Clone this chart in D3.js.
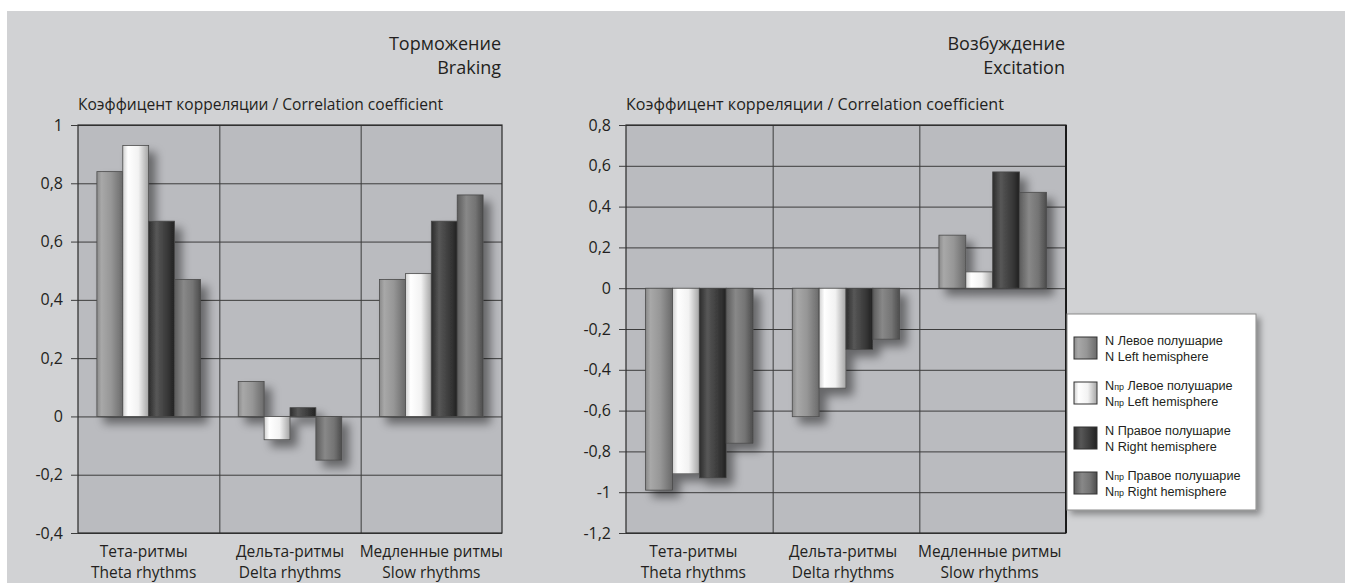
<!DOCTYPE html>
<html><head><meta charset="utf-8">
<script src="https://cdn.jsdelivr.net/npm/d3@7"></script>
<style>
html,body{margin:0;padding:0;background:#fff;}
svg{display:block;}
text{fill:#231f20;}
</style></head>
<body><svg id="c" width="1345" height="583" style='font-family:"Open Sans","Noto Sans",sans-serif'></svg>
<script>
// ---- data ----
const categoriesRu = ["Тета-ритмы", "Дельта-ритмы", "Медленные ритмы"];
const categoriesEn = ["Theta rhythms", "Delta rhythms", "Slow rhythms"];
const seriesKeys = ["nLeft", "nprLeft", "nRight", "nprRight"];
const seriesPrefix = ["N", "Nпр", "N", "Nпр"];
const seriesNamesRu = ["Левое полушарие", "Левое полушарие", "Правое полушарие", "Правое полушарие"];
const seriesNamesEn = ["Left hemisphere", "Left hemisphere", "Right hemisphere", "Right hemisphere"];

const brakingNLeft    = [0.84, 0.12, 0.47];
const brakingNprLeft  = [0.93, -0.08, 0.49];
const brakingNRight   = [0.67, 0.03, 0.67];
const brakingNprRight = [0.47, -0.15, 0.76];

const excitationNLeft    = [-0.99, -0.63, 0.26];
const excitationNprLeft  = [-0.91, -0.49, 0.08];
const excitationNRight   = [-0.93, -0.30, 0.57];
const excitationNprRight = [-0.76, -0.25, 0.47];

const brakingTicks    = [1, 0.8, 0.6, 0.4, 0.2, 0, -0.2, -0.4];
const excitationTicks = [0.8, 0.6, 0.4, 0.2, 0, -0.2, -0.4, -0.6, -0.8, -1, -1.2];

const brakingTitle    = ["Торможение", "Braking"];
const excitationTitle = ["Возбуждение", "Excitation"];
const yAxisTitle = "Коэффицент корреляции / Correlation coefficient";

// ---- drawing ----
const svg = d3.select("#c");
const defs = svg.append("defs");

const gradStops = [
  [["0%","#8a8a8a"],["18%","#a8a8a8"],["55%","#969696"],["100%","#6a6a6a"]],
  [["0%","#d0d0d0"],["20%","#ffffff"],["60%","#f2f2f2"],["100%","#a4a4a4"]],
  [["0%","#2c2c2c"],["30%","#575757"],["70%","#3a3a3a"],["100%","#222222"]],
  [["0%","#5c5c5c"],["35%","#888888"],["70%","#747474"],["100%","#4c4c4c"]]
];
gradStops.forEach((stops, i) => {
  const g = defs.append("linearGradient").attr("id", "g" + i)
    .attr("x1", "0%").attr("x2", "100%").attr("y1", "0%").attr("y2", "0%");
  stops.forEach(s => g.append("stop").attr("offset", s[0]).attr("stop-color", s[1]));
});
const f = defs.append("filter").attr("id", "shadow")
  .attr("x", "-20%").attr("y", "-20%").attr("width", "150%").attr("height", "150%");
f.append("feDropShadow").attr("dx", 7).attr("dy", 7).attr("stdDeviation", 5)
  .attr("flood-color", "#000").attr("flood-opacity", 0.45);
const f2 = defs.append("filter").attr("id", "lshadow")
  .attr("x", "-20%").attr("y", "-20%").attr("width", "150%").attr("height", "150%");
f2.append("feDropShadow").attr("dx", 4).attr("dy", 4).attr("stdDeviation", 3)
  .attr("flood-color", "#000").attr("flood-opacity", 0.35);

// panel
svg.append("rect").attr("x", 7).attr("y", 11).attr("width", 1345).attr("height", 583).attr("fill", "#d1d2d4");

const fmt = d => String(+d.toFixed(1)).replace(".", ",");

function drawChart(cfg) {
  const {x0, x1, y0, y1, domain, ticks, series, title, axisTitleW, titleRight, labelShift} = cfg;
  const g = svg.append("g");
  const x = d3.scaleBand().domain(categoriesRu).range([x0, x1]).paddingInner(0).paddingOuter(0);
  const xi = d3.scaleBand().domain(seriesKeys).range([0, x.bandwidth()]).paddingInner(0).paddingOuter(0.73);
  const y = d3.scaleLinear().domain(domain).range([y1, y0]);

  g.append("rect").attr("x", x0).attr("y", y0).attr("width", x1 - x0).attr("height", y1 - y0).attr("fill", "#babbbf");

  // gridlines
  g.append("g").attr("transform", `translate(${x0},0)`)
    .call(d3.axisLeft(y).tickValues(ticks).tickSize(-(x1 - x0)).tickFormat(""))
    .call(s => s.select(".domain").remove())
    .call(s => s.selectAll("line").attr("stroke", "#3c3c3c").attr("stroke-width", 1));
  // category dividers
  g.selectAll(".div").data(categoriesRu.slice(1)).join("line")
    .attr("x1", d => x(d) + 0.5).attr("x2", d => x(d) + 0.5).attr("y1", y0).attr("y2", y1)
    .attr("stroke", "#3c3c3c").attr("stroke-width", 1);

  // bars
  const barsG = g.append("g").attr("filter", "url(#shadow)");
  const rows = [];
  categoriesRu.forEach((c, ci) => seriesKeys.forEach((k, si) => rows.push({c, k, si, v: series[si][ci]})));
  barsG.selectAll("rect").data(rows).join("rect")
    .attr("x", d => x(d.c) + xi(d.k))
    .attr("width", xi.bandwidth())
    .attr("y", d => y(Math.max(0, d.v)))
    .attr("height", d => Math.abs(y(d.v) - y(0)))
    .attr("fill", d => `url(#g${d.si})`)
    .attr("stroke", "#4a4a4a").attr("stroke-width", 0.8);

  // frame
  g.append("rect").attr("x", x0).attr("y", y0).attr("width", x1 - x0).attr("height", y1 - y0)
    .attr("fill", "none").attr("stroke", "#2a2a2a").attr("stroke-width", 1.2);
  if (titleRight) g.append("line").attr("x1", x1).attr("x2", x1).attr("y1", y0).attr("y2", y1)
    .attr("stroke", "#1a1a1a").attr("stroke-width", 2);

  // y axis ticks & labels
  g.append("g").attr("transform", `translate(${x0},0)`)
    .call(d3.axisLeft(y).tickValues(ticks).tickSize(7).tickPadding(8).tickFormat(fmt))
    .call(s => s.select(".domain").remove())
    .call(s => s.selectAll("line").attr("stroke", "#3c3c3c"))
    .call(s => s.selectAll("text").attr("font-size", 16).attr("fill", "#231f20")
      .attr("font-family", null));
  g.selectAll(".tick text").style("font-family", '"Open Sans","Noto Sans",sans-serif');

  // axis title
  g.append("text").attr("x", x0).attr("y", 110).attr("font-size", 15.5)
    .attr("textLength", axisTitleW).attr("lengthAdjust", "spacingAndGlyphs").text(yAxisTitle);

  // chart title
  g.selectAll(".ttl").data(title).join("text")
    .attr("x", x1 - 1).attr("y", (d, i) => 50 + i * 24).attr("text-anchor", "end")
    .attr("font-size", 18).text(d => d);

  // category labels
  categoriesRu.forEach((c, i) => {
    const cx = x(c) + x.bandwidth() / 2 + labelShift[i];
    g.append("text").attr("x", cx).attr("y", 557).attr("text-anchor", "middle").attr("font-size", 15.5).text(c);
    g.append("text").attr("x", cx).attr("y", 578).attr("text-anchor", "middle").attr("font-size", 15.5).text(categoriesEn[i]);
  });
}

drawChart({x0: 78, x1: 502, y0: 125, y1: 533, domain: [-0.4, 1], ticks: brakingTicks,
  series: [brakingNLeft, brakingNprLeft, brakingNRight, brakingNprRight],
  title: brakingTitle, axisTitleW: 365, titleRight: false, labelShift: [-5, 0, 0]});
drawChart({x0: 626, x1: 1066, y0: 125, y1: 533, domain: [-1.2, 0.8], ticks: excitationTicks,
  series: [excitationNLeft, excitationNprLeft, excitationNRight, excitationNprRight],
  title: excitationTitle, axisTitleW: 378, titleRight: true, labelShift: [-6, -3, -3]});

// legend
const lg = svg.append("g");
lg.append("rect").attr("x", 1067).attr("y", 314).attr("width", 189).attr("height", 196)
  .attr("fill", "#fff").attr("stroke", "#8a8a8a").attr("stroke-width", 1).attr("filter", "url(#lshadow)");
const ent = lg.selectAll(".e").data(seriesKeys).join("g")
  .attr("transform", (d, i) => `translate(0,${337 + i * 45})`);
ent.append("rect").attr("x", 1074).attr("y", 0).attr("width", 23).attr("height", 22)
  .attr("fill", (d, i) => `url(#g${i})`).attr("stroke", "#333").attr("stroke-width", 1);
function addLine(sel, yy, name) {
  return sel.append("text").attr("x", 0).attr("y", 0).attr("class", "lt").attr("data-y", yy)
    .style("font-family", '"Liberation Sans",Arial,sans-serif').attr("font-size", 13.5)
    .each(function(d, i) {
      const tt = d3.select(this);
      const pre = seriesPrefix[i];
      tt.append("tspan").text("N");
      if (pre.length > 1) tt.append("tspan").attr("font-size", 9.5).text(pre.slice(1));
      tt.append("tspan").text(" " + name[i]);
    });
}
addLine(ent, 7.5, seriesNamesRu);
addLine(ent, 23.5, seriesNamesEn);
const w0 = lg.select(".lt").node().getComputedTextLength();
const scaleX = 118 / w0;
lg.selectAll(".lt").attr("transform", function() {
  return `translate(1105,${+this.getAttribute("data-y")}) scale(${scaleX},1)`;
});
</script></body></html>
